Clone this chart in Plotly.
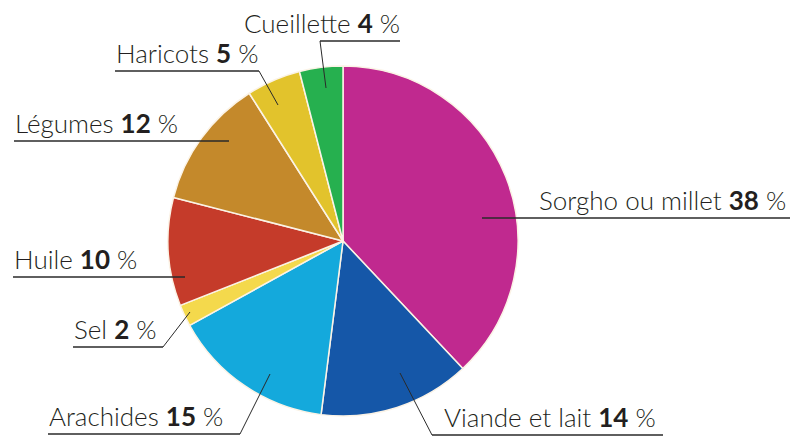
import plotly.graph_objects as go

W, H = 805, 436

labels = ["Sorgho ou millet", "Viande et lait", "Arachides", "Sel", "Huile",
          "Légumes", "Haricots", "Cueillette"]
values = [38, 14, 15, 2, 10, 12, 5, 4]
colors = ["#C0298F", "#1557A8", "#14A9DC", "#F4D94C", "#C53B2A",
          "#C4892B", "#E2C32C", "#26B04F"]

# label layout (pixels): text left x, underline y, underline x-range, leader line end
label_layout = {
    "Cueillette":       dict(tx=243, uy=41,  ux=(320, 400), lead=[(320, 41), (326, 88)]),
    "Haricots":         dict(tx=115, uy=71,  ux=(115, 259), lead=[(259, 71), (278, 105)]),
    "Légumes":          dict(tx=14,  uy=141, ux=(14, 229),  lead=None),
    "Sorgho ou millet": dict(tx=538, uy=218, ux=(482, 790), lead=None),
    "Huile":            dict(tx=13,  uy=277, ux=(13, 185),  lead=None),
    "Sel":              dict(tx=73,  uy=347, ux=(73, 163),  lead=[(163, 347), (190, 312)]),
    "Arachides":        dict(tx=48,  uy=434, ux=(48, 240),  lead=[(240, 434), (270, 374)]),
    "Viande et lait":   dict(tx=443, uy=435, ux=(432, 663), lead=[(432, 435), (400, 373)]),
}

def px(x):
    return x / W

def py(y):
    return 1 - y / H

cx, cy, r = 343, 241, 175

fig = go.Figure(go.Pie(
    labels=labels, values=values, sort=False, direction="clockwise", rotation=0,
    marker=dict(colors=colors, line=dict(color="#FBF3E6", width=1.5)),
    textinfo="none", hoverinfo="label+percent", showlegend=False,
    domain=dict(x=[px(cx - r), px(cx + r)], y=[py(cy + r), py(cy - r)]),
))

shapes = []
annotations = []
for lab, val in zip(labels, values):
    L = label_layout[lab]
    shapes.append(dict(type="line", xref="paper", yref="paper",
                       x0=px(L["ux"][0]), x1=px(L["ux"][1]),
                       y0=py(L["uy"]), y1=py(L["uy"]),
                       line=dict(color="#2a2a2a", width=1.3)))
    if L["lead"]:
        (x0, y0), (x1, y1) = L["lead"]
        shapes.append(dict(type="line", xref="paper", yref="paper",
                           x0=px(x0), x1=px(x1), y0=py(y0), y1=py(y1),
                           line=dict(color="#2a2a2a", width=1)))
    annotations.append(dict(
        text=f"{lab} <b>{val}</b> %", xref="paper", yref="paper",
        x=px(L["tx"]), y=py(L["uy"] - 1), xanchor="left", yanchor="bottom",
        showarrow=False, borderpad=0,
        font=dict(family="Lato", size=26, weight=300, color="#231F20")))

fig.update_layout(
    width=W, height=H, margin=dict(l=0, r=0, t=0, b=0),
    paper_bgcolor="white", plot_bgcolor="white",
    shapes=shapes, annotations=annotations,
)

fig.write_html("out.html", config={"displayModeBar": False},
               post_script="document.body.style.margin='0';document.body.style.padding='0';document.body.style.overflow='hidden';")
